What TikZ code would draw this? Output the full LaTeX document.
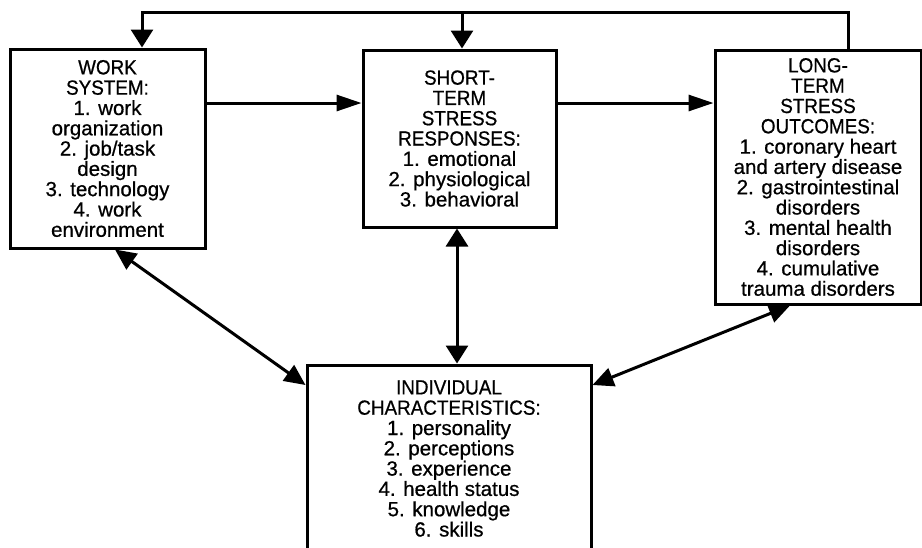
\documentclass[tikz,border=0pt]{standalone}
\usepackage{fontspec}
\setmainfont{Liberation Sans}[FakeBold=0.7]
\usetikzlibrary{arrows.meta}
% capital heading lines are set a little condensed
\newcommand\hdr[1]{\scalebox{0.92}[1]{#1}}
\begin{document}
\begin{tikzpicture}[x=1pt,y=-1pt,
  box/.style={draw,line width=3pt,rectangle,align=center,inner sep=0pt,
    font=\fontsize{20.5}{20.3}\selectfont},
  link/.style={line width=3pt},
  htip/.style={-{Triangle[length=25pt,width=16pt]}},
  vtip/.style={-{Triangle[length=18pt,width=22pt]}},
  vboth/.style={{Triangle[length=18pt,width=22pt]}-{Triangle[length=18pt,width=22pt]}},
  dboth/.style={{Triangle[length=21pt,width=19pt]}-{Triangle[length=21pt,width=19pt]}}
]
\useasboundingbox (0,0) rectangle (922,547);
\clip (0,0) rectangle (922,547);

% the four blocks
\node[box,minimum width=195pt,minimum height=199pt] (ws) at (107.5,148.5)
  {\hdr{WORK}\\\hdr{SYSTEM:}\\1. work\\organization\\2. job/task\\design\\3. technology\\4. work\\environment};
\node[box,minimum width=193pt,minimum height=177pt] (st) at (459.5,138.5)
  {\hdr{SHORT-}\\\hdr{TERM}\\\hdr{STRESS}\\\hdr{RESPONSES:}\\1. emotional\\2. physiological\\3. behavioral};
\node[box,minimum width=206pt,minimum height=254pt] (lt) at (818,177)
  {\hdr{LONG-}\\\hdr{TERM}\\\hdr{STRESS}\\\hdr{OUTCOMES:}\\1. coronary heart\\and artery disease\\2. gastrointestinal\\disorders\\3. mental health\\disorders\\4. cumulative\\trauma disorders};
\node[box,minimum width=284pt,minimum height=187pt] (ic) at (449,458.5)
  {\hdr{INDIVIDUAL}\\\hdr{CHARACTERISTICS:}\\1. personality\\2. perceptions\\3. experience\\4. health status\\5. knowledge\\6. skills};

% helper coordinates for connector routing
\coordinate (row) at (0,103);
\coordinate (fbL) at (142,12);
\coordinate (fbM) at (462,12);
\coordinate (fbR) at (848,12);
\coordinate (vx) at (457,0);
\coordinate (wsx) at (115,0);
\coordinate (icl) at (0,385);
\coordinate (ltx) at (790,0);

% forward flow
\draw[link,htip] (row -| ws.east) -- (row -| st.west);
\draw[link,htip] (row -| st.east) -- (row -| lt.west);

% feedback loop along the top
\draw[link,vtip] (fbR |- lt.north) -- (fbR) -- (fbL) -- (fbL |- ws.north);
\draw[link,vtip] (fbM) -- (fbM |- st.north);

% links with individual characteristics
\draw[link,vboth] (vx |- st.south) -- (vx |- ic.north);
\draw[link,dboth] (wsx |- ws.south) -- (icl -| ic.west);
\draw[link,dboth] (ltx |- lt.south) -- (icl -| ic.east);
\end{tikzpicture}
\end{document}
